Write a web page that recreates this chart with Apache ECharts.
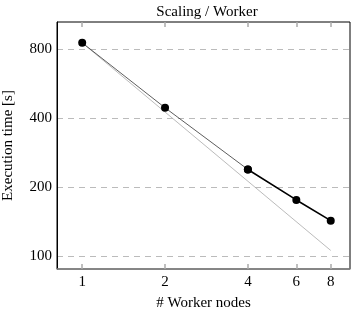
<!DOCTYPE html>
<html>
<head>
<meta charset="utf-8">
<script src="https://cdn.jsdelivr.net/npm/echarts@6/dist/echarts.min.js"></script>
<style>
  html, body { margin: 0; padding: 0; background: #fff; }
  #chart { width: 356px; height: 309px; }
</style>
</head>
<body>
<div id="chart"></div>
<script>
// measured run (thin up to 4 nodes, thick from 4 to 8)
const nodesA = [1, 2, 4]
const timeA = [852, 444, 239]
const nodesB = [4, 6, 8]
const timeB = [239, 176, 143]
// ideal linear scaling reference
const idealNodes = [1, 8]
const idealTime = [852, 106]

const xTicks = [1, 2, 4, 6, 8]
const yTicks = [100, 200, 400, 800]

const font = 'Liberation Serif'

const pairs = (xs, ys) => xs.map((x, i) => [x, ys[i]])

const chart = echarts.init(document.getElementById('chart'))

const xAxisBase = {
  type: 'log',
  logBase: 2,
  min: 0.81,
  max: 9.4,
  splitLine: { show: false },
  minorTick: { show: false },
  axisTick: {
    inside: true,
    length: 5,
    customValues: xTicks,
    lineStyle: { color: '#aaa', width: 1.5 },
  },
}

chart.setOption({
  animation: false,
  title: {
    text: 'Scaling / Worker',
    left: 202,
    textAlign: 'center',
    top: 0,
    textStyle: { fontFamily: font, fontSize: 15, fontWeight: 'normal', color: '#000' },
  },
  grid: {
    left: 57,
    right: 6,
    top: 22,
    bottom: 40,
    containLabel: false,
    outerBoundsMode: 'none',
    show: true,
    borderColor: '#000',
    borderWidth: 1,
  },
  xAxis: [
    {
      ...xAxisBase,
      position: 'bottom',
      name: '# Worker nodes',
      nameLocation: 'middle',
      nameGap: 27,
      nameTextStyle: { fontFamily: font, fontSize: 15, color: '#000' },
      axisLine: { show: true, lineStyle: { color: '#888', width: 1.5 } },
      axisLabel: {
        customValues: xTicks,
        margin: 6,
        fontFamily: font,
        fontSize: 15,
        color: '#000',
      },
    },
    {
      ...xAxisBase,
      position: 'top',
      axisLine: { show: false },
      axisLabel: { show: false },
    },
  ],
  yAxis: {
    type: 'log',
    logBase: 2,
    min: 88,
    max: 1050,
    name: 'Execution time [s]',
    nameLocation: 'middle',
    nameGap: 41,
    nameTextStyle: { fontFamily: font, fontSize: 15, color: '#000' },
    axisLine: { show: true, lineStyle: { color: '#000', width: 1 } },
    axisTick: { show: false, customValues: yTicks },
    minorTick: { show: false },
    axisLabel: {
      customValues: yTicks,
      margin: 5,
      fontFamily: font,
      fontSize: 15,
      color: '#000',
    },
    splitLine: {
      show: true,
      customValues: yTicks,
      lineStyle: { color: '#bbb', type: [6, 5], width: 1 },
    },
  },
  series: [
    {
      type: 'line',
      data: pairs(idealNodes, idealTime),
      symbol: 'none',
      lineStyle: { color: '#aaa', width: 0.8 },
      silent: true,
    },
    {
      type: 'line',
      data: pairs(nodesA, timeA),
      symbol: 'circle',
      symbolSize: 8,
      itemStyle: { color: '#000' },
      lineStyle: { color: '#333', width: 0.8 },
      z: 3,
    },
    {
      type: 'line',
      data: pairs(nodesB, timeB),
      symbol: 'circle',
      symbolSize: 8,
      itemStyle: { color: '#000' },
      lineStyle: { color: '#000', width: 1.6 },
      z: 3,
    },
  ],
})
</script>
</body>
</html>
